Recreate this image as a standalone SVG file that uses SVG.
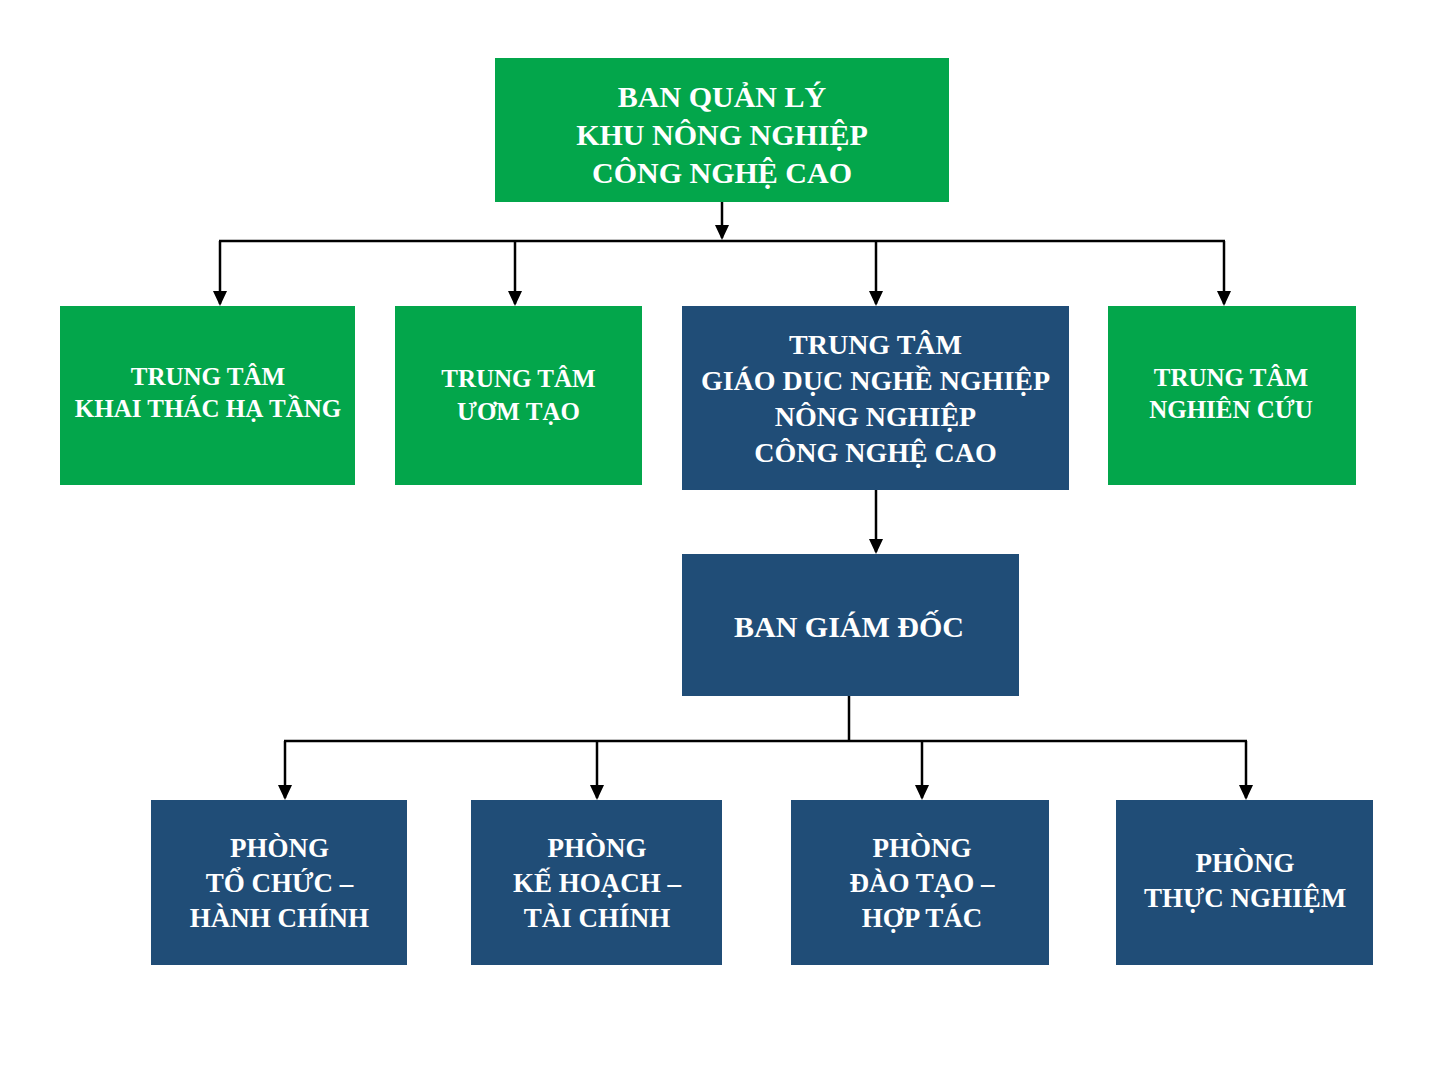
<svg xmlns="http://www.w3.org/2000/svg" width="1445" height="1088" viewBox="0 0 1445 1088">
<style>
.g{fill:#03a64b}
.b{fill:#204d77}
.t{fill:#ffffff;font-family:"Liberation Serif","Times New Roman",serif;font-weight:bold;text-anchor:middle}
.c{fill:none;stroke:#000;stroke-width:2.5}
</style>
<defs>
<marker id="ah" markerUnits="userSpaceOnUse" markerWidth="16" markerHeight="14" refX="13" refY="7" orient="auto" viewBox="0 0 16 14">
<path d="M0,0 L15,7 L0,14 Z" fill="#000"/>
</marker>
</defs>
<rect width="1445" height="1088" fill="#ffffff"/>
<g id="connectors">
<line class="c" x1="722" y1="202" x2="722" y2="238" marker-end="url(#ah)"/>
<line class="c" x1="219" y1="241" x2="1225" y2="241"/>
<line class="c" x1="220" y1="241" x2="220" y2="304" marker-end="url(#ah)"/>
<line class="c" x1="515" y1="241" x2="515" y2="304" marker-end="url(#ah)"/>
<line class="c" x1="876" y1="241" x2="876" y2="304" marker-end="url(#ah)"/>
<line class="c" x1="1224" y1="241" x2="1224" y2="304" marker-end="url(#ah)"/>
<line class="c" x1="876" y1="490" x2="876" y2="552" marker-end="url(#ah)"/>
<line class="c" x1="849" y1="696" x2="849" y2="741"/>
<line class="c" x1="284" y1="741" x2="1247" y2="741"/>
<line class="c" x1="285" y1="741" x2="285" y2="798" marker-end="url(#ah)"/>
<line class="c" x1="597" y1="741" x2="597" y2="798" marker-end="url(#ah)"/>
<line class="c" x1="922" y1="741" x2="922" y2="798" marker-end="url(#ah)"/>
<line class="c" x1="1246" y1="741" x2="1246" y2="798" marker-end="url(#ah)"/>
</g>
<g id="n-banquanly">
<rect class="g" x="495" y="58" width="454" height="144"/>
<text class="t" font-size="30"><tspan x="722" y="107">BAN QUẢN LÝ</tspan><tspan x="722" y="145">KHU NÔNG NGHIỆP</tspan><tspan x="722" y="183">CÔNG NGHỆ CAO</tspan></text>
</g>
<g id="n-khaithac">
<rect class="g" x="60" y="306" width="295" height="179"/>
<text class="t" font-size="25"><tspan x="208" y="385">TRUNG TÂM</tspan><tspan x="208" y="417">KHAI THÁC HẠ TẦNG</tspan></text>
</g>
<g id="n-uomtao">
<rect class="g" x="395" y="306" width="247" height="179"/>
<text class="t" font-size="25"><tspan x="518.5" y="387">TRUNG TÂM</tspan><tspan x="518.5" y="420">ƯƠM TẠO</tspan></text>
</g>
<g id="n-giaoduc">
<rect class="b" x="682" y="306" width="387" height="184"/>
<text class="t" font-size="28"><tspan x="875.5" y="354">TRUNG TÂM</tspan><tspan x="875.5" y="390">GIÁO DỤC NGHỀ NGHIỆP</tspan><tspan x="875.5" y="426">NÔNG NGHIỆP</tspan><tspan x="875.5" y="462">CÔNG NGHỆ CAO</tspan></text>
</g>
<g id="n-nghiencuu">
<rect class="g" x="1108" y="306" width="248" height="179"/>
<text class="t" font-size="25"><tspan x="1231" y="386">TRUNG TÂM</tspan><tspan x="1231" y="418">NGHIÊN CỨU</tspan></text>
</g>
<g id="n-bangiamdoc">
<rect class="b" x="682" y="554" width="337" height="142"/>
<text class="t" font-size="30" x="849" y="637">BAN GIÁM ĐỐC</text>
</g>
<g id="n-tochuc">
<rect class="b" x="151" y="800" width="256" height="165"/>
<text class="t" font-size="27"><tspan x="279.5" y="857">PHÒNG</tspan><tspan x="279.5" y="892">TỔ CHỨC –</tspan><tspan x="279.5" y="927">HÀNH CHÍNH</tspan></text>
</g>
<g id="n-kehoach">
<rect class="b" x="471" y="800" width="251" height="165"/>
<text class="t" font-size="27"><tspan x="597" y="857">PHÒNG</tspan><tspan x="597" y="892">KẾ HOẠCH –</tspan><tspan x="597" y="927">TÀI CHÍNH</tspan></text>
</g>
<g id="n-daotao">
<rect class="b" x="791" y="800" width="258" height="165"/>
<text class="t" font-size="27"><tspan x="922" y="857">PHÒNG</tspan><tspan x="922" y="892">ĐÀO TẠO –</tspan><tspan x="922" y="927">HỢP TÁC</tspan></text>
</g>
<g id="n-thucnghiem">
<rect class="b" x="1116" y="800" width="257" height="165"/>
<text class="t" font-size="27"><tspan x="1245" y="872">PHÒNG</tspan><tspan x="1245" y="907">THỰC NGHIỆM</tspan></text>
</g>
</svg>
